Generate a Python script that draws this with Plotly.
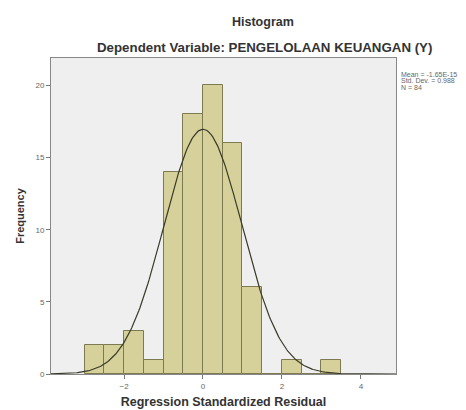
import numpy as np
import plotly.graph_objects as go

bin_starts = [-3.0, -2.5, -2.0, -1.5, -1.0, -0.5, 0.0, 0.5, 1.0, 1.5, 2.0, 2.5, 3.0]
frequencies = [2, 2, 3, 1, 14, 18, 20, 16, 6, 0, 1, 0, 1]
bin_width = 0.5
mean_val = 0.0
std_val = 0.988
n_val = 84
x_ticks = [-2, 0, 2, 4]
y_ticks = [0, 5, 10, 15, 20]
stats_lines = ["Mean = -1.65E-15", "Std. Dev. = 0.988", "N = 84"]

centers = [b + bin_width / 2 for b in bin_starts]

fig = go.Figure()
fig.add_trace(go.Bar(
    x=centers, y=frequencies, width=bin_width,
    marker=dict(color="#d6d19a", line=dict(color="#7d7a52", width=1)),
    hoverinfo="x+y", showlegend=False,
))

xs = np.linspace(-3.85, 4.9, 300)
ys = n_val * bin_width / (std_val * np.sqrt(2 * np.pi)) * np.exp(-0.5 * ((xs - mean_val) / std_val) ** 2)
fig.add_trace(go.Scatter(x=xs, y=ys, mode="lines",
                         line=dict(color="#3a3a2a", width=1.2), showlegend=False))

PW, PH = 345, 316
annotations = [
    dict(text="<b>Histogram</b>", xref="paper", yref="paper", x=(263 - 51) / PW,
         y=1 + (58 - 22) / PH, showarrow=False, font=dict(size=12.5, color="#333"),
         xanchor="center", yanchor="middle"),
    dict(text="<b>Dependent Variable: PENGELOLAAN KEUANGAN (Y)</b>", xref="paper", yref="paper",
         x=(264 - 51) / PW, y=1 + (58 - 47) / PH, showarrow=False,
         font=dict(size=13.3, color="#333"), xanchor="center", yanchor="middle"),
]
for i, line in enumerate(stats_lines):
    annotations.append(dict(text=line, xref="paper", yref="paper",
                            x=1.01, y=1 - (74 + 6.5 * i - 58) / PH, showarrow=False,
                            align="left", font=dict(size=7, color="#666"),
                            xanchor="left", yanchor="middle"))

fig.update_layout(
    width=466, height=410,
    margin=dict(l=43, r=466 - 43 - PW, t=50, b=410 - 50 - PH),
    paper_bgcolor="white", plot_bgcolor="#efefef",
    font=dict(family="Liberation Sans, Arial, sans-serif", color="#333"),
    bargap=0,
    xaxis=dict(range=[-3.85, 4.89], tickvals=x_ticks, ticks="outside", ticklen=4,
               tickcolor="#777", tickfont=dict(size=8, color="#666"), showgrid=False,
               zeroline=False, showline=True, linecolor="#888", mirror=True,
               title=dict(text="<b>Regression Standardized Residual</b>",
                          font=dict(size=12.5, color="#333"), standoff=7)),
    yaxis=dict(range=[0, 21.9], tickvals=y_ticks, ticks="outside", ticklen=4,
               tickcolor="#777", tickfont=dict(size=8, color="#666"), showgrid=False,
               zeroline=False, showline=True, linecolor="#888", mirror=True,
               title=dict(text="<b>Frequency</b>", font=dict(size=11, color="#333"), standoff=8)),
    annotations=annotations,
)

fig.write_html("out.html")
